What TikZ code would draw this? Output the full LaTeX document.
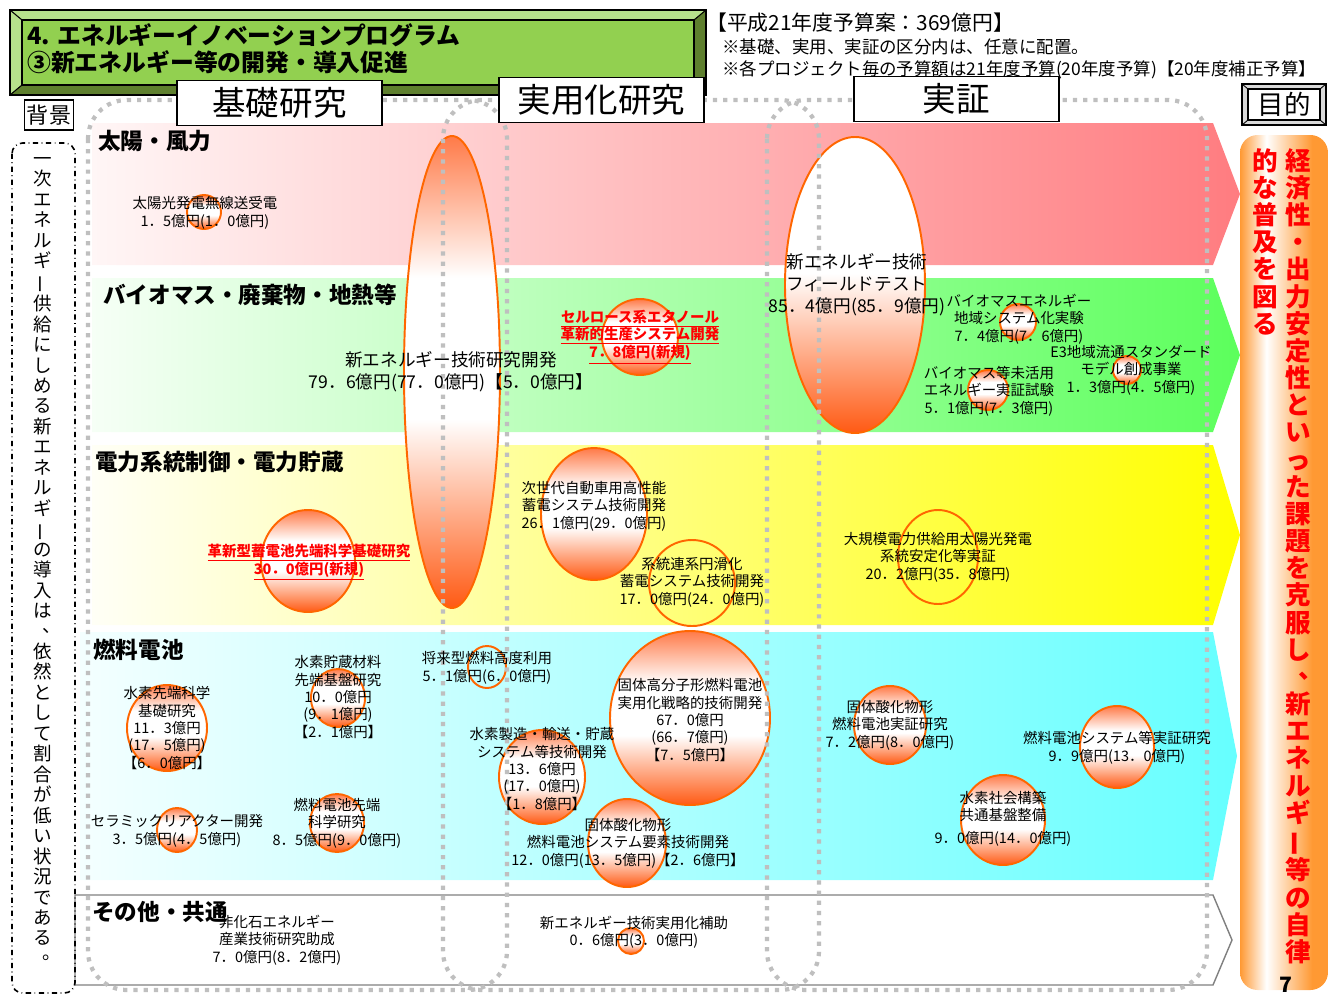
\documentclass[tikz,border=0pt]{standalone}
\usepackage{fontspec}
\setmainfont{Noto Sans CJK JP}
\usepackage{graphicx}

\definecolor{titlegreen}{HTML}{92D050}
\definecolor{titlelight}{HTML}{B7E28C}
\definecolor{titledark}{HTML}{5E7F2E}
\definecolor{solarL}{HTML}{FFF6F6}
\definecolor{solarR}{HTML}{FF7C80}
\definecolor{bioL}{HTML}{F6FFF6}
\definecolor{bioR}{HTML}{5CFF5C}
\definecolor{gridL}{HTML}{FFFFF6}
\definecolor{gridR}{HTML}{FFFF00}
\definecolor{fcL}{HTML}{F4FFFF}
\definecolor{fcR}{HTML}{66FFFF}
\definecolor{phasegray}{HTML}{BFBFBF}
\definecolor{bubbleedge}{HTML}{FF6600}
\definecolor{bubbletop}{HTML}{FF7A48}
\definecolor{bubblebot}{HTML}{FF5A14}
\definecolor{goalorange}{HTML}{FF9933}
\definecolor{goalred}{HTML}{FF0000}

\pgfdeclareverticalshading{bubbleshade}{100bp}{color(0bp)=(bubblebot); color(25bp)=(bubblebot); color(45bp)=(white); color(60bp)=(white); color(75bp)=(bubbletop); color(100bp)=(bubbletop)}
\pgfdeclareverticalshading{fieldshade}{100bp}{color(0bp)=(bubblebot); color(25bp)=(bubblebot); color(52bp)=(white); color(75bp)=(white); color(100bp)=(white)}
\pgfdeclarehorizontalshading{goalshade}{100bp}{color(0bp)=(goalorange); color(25bp)=(goalorange); color(40bp)=(white); color(66bp)=(goalorange); color(100bp)=(goalorange)}

\newcommand{\vbar}{\rotatebox[origin=c]{90}{ー}}
\newcommand{\vpun}[1]{\makebox[1em][l]{\kern.5em\raisebox{.3em}{#1}}}

\begin{document}
\begin{tikzpicture}[x=0.5669pt, y=-0.5669pt,
	phase/.style={draw=phasegray, line width=2.4pt, dash pattern=on 2.4pt off 3.4pt, rounded corners=22pt},
	bubble/.style={draw=bubbleedge, line width=1.1pt, shade, shading=bubbleshade},
	ring/.style={draw=bubbleedge, line width=1.1pt},
	lbl/.style={align=center, inner sep=0pt, font=\fontsize{8.2}{9.9}\selectfont},
	midlbl/.style={align=center, inner sep=0pt, font=\fontsize{10}{12.5}\selectfont},
	redlbl/.style={align=center, inner sep=0pt, text=goalred, font=\bfseries\fontsize{8.2}{10}\selectfont},
	cat/.style={anchor=west, inner sep=0pt, font=\bfseries\fontsize{12.8}{14}\selectfont},
	hdr/.style={draw=black, fill=white, line width=0.9pt, minimum width=116pt, minimum height=25.5pt, inner sep=0pt, font=\fontsize{19}{20}\selectfont}]
	\useasboundingbox (0,0) rectangle (1329,998);
	
	% Faixas
	\shade[left color=solarL, right color=solarR] (92,123) -- (1213,123) -- (1240,194) -- (1213,265) -- (92,265) -- cycle;
	\shade[left color=bioL, right color=bioR] (92,278) -- (1213,278) -- (1240,355) -- (1213,432) -- (92,432) -- cycle;
	\shade[left color=gridL, right color=gridR] (92,445) -- (1213,445) -- (1240,535) -- (1213,625) -- (92,625) -- cycle;
	\shade[left color=fcL, right color=fcR] (80,632) -- (1213,632) -- (1237,756) -- (1213,880) -- (80,880) -- cycle;
	\draw[gray, line width=0.8pt, fill=white] (75,895) -- (1213,895) -- (1232,940) -- (1213,985) -- (75,985) -- cycle;
	
	% Objetivo
	\shade[shading=goalshade, rounded corners=10pt] (1240,135) rectangle (1328,990);
	
	% Bolhas
	\path[bubble] (204,212) ellipse [x radius=17, y radius=17];
	\path[bubble] (452,372) ellipse [x radius=48, y radius=236];
	\path[bubble] (640,337) ellipse [x radius=38, y radius=38];
	\path[bubble, shading=fieldshade] (855,285) ellipse [x radius=70, y radius=148];
	\path[bubble] (1018,322) ellipse [x radius=18, y radius=18];
	\path[bubble] (988,390) ellipse [x radius=20, y radius=20];
	\path[bubble] (1127,370) ellipse [x radius=14, y radius=14];
	\path[bubble] (308,561) ellipse [x radius=47, y radius=51];
	\path[bubble] (594,514) ellipse [x radius=53, y radius=66];
	\draw[ring] (692,583) ellipse [x radius=43, y radius=43];
	\draw[ring] (938,557) ellipse [x radius=40, y radius=47];
	\path[bubble] (167,728) ellipse [x radius=40, y radius=43];
	\path[bubble] (338,698) ellipse [x radius=27, y radius=29];
	\draw[ring] (487,667) ellipse [x radius=19, y radius=21];
	\path[bubble] (177,830) ellipse [x radius=20, y radius=22];
	\path[bubble] (337,823) ellipse [x radius=27, y radius=29];
	\path[bubble] (542,777) ellipse [x radius=43, y radius=47];
	\path[bubble] (690,718) ellipse [x radius=80, y radius=87];
	\path[bubble] (627,843) ellipse [x radius=39, y radius=44];
	\path[bubble] (890,725) ellipse [x radius=36, y radius=39];
	\path[bubble] (1117,747) ellipse [x radius=37, y radius=41];
	\path[bubble] (1003,820) ellipse [x radius=42, y radius=45];
	\path[bubble] (631,941) ellipse [x radius=13, y radius=13];
	
	% Fases
	\draw[phase] (88,100) rectangle (507,990);
	\draw[phase] (443,100) rectangle (819,990);
	\draw[phase] (767,100) rectangle (1207,990);
	
	% Fundo
	\draw[dash dot, line width=0.9pt, rounded corners=6pt] (12,143) rectangle (75,993);
	\node[draw=black, fill=white, line width=0.8pt, minimum width=28pt, minimum height=17pt, inner sep=0pt, font=\fontsize{12.5}{13}\selectfont] (haikei) at (49,115) {背景};
	\node[anchor=north, inner sep=0pt, align=center, font=\fontsize{10.5}{11.6}\selectfont] (haikeitext) at (43,157) {一\\次\\エ\\ネ\\ル\\ギ\\\vbar\\供\\給\\に\\し\\め\\る\\新\\エ\\ネ\\ル\\ギ\\\vbar\\の\\導\\入\\は\\\vpun{、}\\依\\然\\と\\し\\て\\割\\合\\が\\低\\い\\状\\況\\で\\あ\\る\\\vpun{。}};
	
	% Titulo
	\fill[titlelight] (10,10) rectangle (706,95);
	\fill[titledark] (706,10) -- (706,95) -- (10,95) -- (22,85) -- (694,85) -- (694,20) -- cycle;
	\fill[titlegreen] (22,20) rectangle (694,85);
	\draw[line width=0.8pt] (10,10) rectangle (706,95);
	\draw[line width=0.6pt] (22,20) rectangle (694,85);
	\draw[line width=0.6pt] (10,10) -- (22,20) (706,10) -- (694,20) (10,95) -- (22,85) (706,95) -- (694,85);
	\node[anchor=west, inner sep=0pt, align=left, font=\bfseries\fontsize{13.5}{15.3}\selectfont] (title) at (27,48.5) {4. エネルギーイノベーションプログラム\\③新エネルギー等の開発・導入促進};
	\node[anchor=west, inner sep=0pt, font=\fontsize{11.8}{12}\selectfont] (budget) at (706,23) {【平成21年度予算案：369億円】};
	\node[anchor=west, inner sep=0pt, align=left, font=\fontsize{9.9}{12.5}\selectfont] (notes) at (722,59) {※基礎、実用、実証の区分内は、任意に配置。\\※各プロジェクト毎の予算額は21年度予算(20年度予算)【20年度補正予算】};
	
	% Cabecalhos
	\node[hdr] (kiso) at (279.5,103) {基礎研究};
	\node[hdr] (jitsuyo) at (601.5,100) {実用化研究};
	\node[hdr] (jissho) at (956.5,99) {実証};
	\fill[gray!30] (1242,84) rectangle (1326,125);
	\draw[line width=0.8pt] (1242,84) rectangle (1326,125);
	\draw[line width=0.6pt, fill=white] (1248,89) rectangle (1320,120);
	\draw[line width=0.5pt] (1242,84) -- (1248,89) (1326,84) -- (1320,89) (1242,125) -- (1248,120) (1326,125) -- (1320,120);
	\node[inner sep=0pt, font=\fontsize{15}{16}\selectfont] (mokuteki) at (1284,104.5) {目的};
	\node[anchor=north, inner sep=0pt, align=center, text=goalred, font=\bfseries\fontsize{14.5}{15.4}\selectfont] (goalone) at (1298,148) {経\\済\\性\\・\\出\\力\\安\\定\\性\\と\\い\\っ\\た\\課\\題\\を\\克\\服\\し\\\vpun{、}\\新\\エ\\ネ\\ル\\ギ\\\vbar\\等\\の\\自\\律};
	\node[anchor=north, inner sep=0pt, align=center, text=goalred, font=\bfseries\fontsize{14.5}{15.4}\selectfont] (goaltwo) at (1265,148) {的\\な\\普\\及\\を\\図\\る};
	\node[inner sep=0pt, font=\bfseries\fontsize{12}{12}\selectfont] (pageno) at (1286,985) {7};
	
	% Categorias
	\node[cat] (solar) at (98,141) {太陽・風力};
	\node[cat] (biomass) at (103,295) {バイオマス・廃棄物・地熱等};
	\node[cat] (grid) at (95,462) {電力系統制御・電力貯蔵};
	\node[cat] (fuelcell) at (93,650) {燃料電池};
	\node[cat] (common) at (92,912) {その他・共通};
	
	% Projetos
	\node[lbl] (solarwl) at (205,213) {太陽光発電無線送受電\\1．5億円(1．0億円)};
	\node[midlbl] (nedord) at (451,372) {新エネルギー技術研究開発\\79．6億円(77．0億円)【5．0億円】};
	\node[redlbl] (cellulose) at (640,337) {\underline{セルロース系エタノール}\\\underline{革新的生産システム開発}\\\underline{7．8億円(新規)}};
	\node[midlbl] (fieldtest) at (857,285) {新エネルギー技術\\フィールドテスト\\85．4億円(85．9億円)};
	\node[lbl] (biosys) at (1019,319) {バイオマスエネルギー\\地域システム化実験\\7．4億円(7．6億円)};
	\node[lbl] (biounused) at (989,391) {バイオマス等未活用\\エネルギー実証試験\\5．1億円(7．3億円)};
	\node[lbl] (ethree) at (1131,370) {E3地域流通スタンダード\\モデル創成事業\\1．3億円(4．5億円)};
	\node[redlbl] (battery) at (309,562.5) {\underline{革新型蓄電池先端科学基礎研究}\\\underline{30．0億円(新規)}};
	\node[lbl] (nextcar) at (594,506) {次世代自動車用高性能\\蓄電システム技術開発\\26．1億円(29．0億円)};
	\node[lbl] (gridlink) at (692,582) {系統連系円滑化\\蓄電システム技術開発\\17．0億円(24．0億円)};
	\node[lbl] (largepv) at (938,557) {大規模電力供給用太陽光発電\\系統安定化等実証\\20．2億円(35．8億円)};
	\node[lbl] (hbasic) at (167,728) {水素先端科学\\基礎研究\\11．3億円\\(17．5億円)\\【6．0億円】};
	\node[lbl] (hstore) at (338,697) {水素貯蔵材料\\先端基盤研究\\10．0億円\\(9．1億円)\\【2．1億円】};
	\node[lbl] (futurefuel) at (487,668) {将来型燃料高度利用\\5．1億円(6．0億円)};
	\node[lbl] (hprod) at (542,769) {水素製造・輸送・貯蔵\\システム等技術開発\\13．6億円\\(17．0億円)\\【1．8億円】};
	\node[lbl] (pefc) at (690,720) {固体高分子形燃料電池\\実用化戦略的技術開発\\67．0億円\\(66．7億円)\\【7．5億円】};
	\node[lbl] (ceramic) at (177,831) {セラミックリアクター開発\\3．5億円(4．5億円)};
	\node[lbl] (fcbasic) at (337,823) {燃料電池先端\\科学研究\\8．5億円(9．0億円)};
	\node[lbl] (sofcsys) at (628,843) {固体酸化物形\\燃料電池システム要素技術開発\\12．0億円(13．5億円)【2．6億円】};
	\node[lbl] (sofcdemo) at (890,725) {固体酸化物形\\燃料電池実証研究\\7．2億円(8．0億円)};
	\node[lbl] (fcdemo) at (1117,748) {燃料電池システム等実証研究\\9．9億円(13．0億円)};
	\node[lbl] (hsociety) at (1003,818.5) {水素社会構築\\共通基盤整備\\[3pt]9．0億円(14．0億円)};
	\node[lbl] (nonfossil) at (277,940) {非化石エネルギー\\産業技術研究助成\\7．0億円(8．2億円)};
	\node[lbl] (subsidy) at (634,932.5) {新エネルギー技術実用化補助\\0．6億円(3．0億円)};
\end{tikzpicture}
\end{document}
